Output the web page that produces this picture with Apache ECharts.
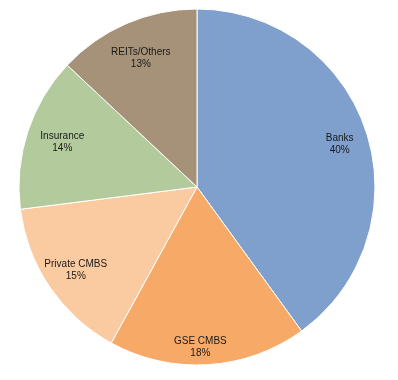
<!DOCTYPE html>
<html>
<head>
<meta charset="utf-8">
<script src="https://cdn.jsdelivr.net/npm/echarts@6/dist/echarts.min.js"></script>
<style>html,body{margin:0;padding:0;background:#fff;}#c{width:398px;height:380px;}</style>
</head>
<body>
<div id="c"></div>
<script>
var categories = ['Banks', 'GSE CMBS', 'Private CMBS', 'Insurance', 'REITs/Others'];
var values = [40, 18, 15, 14, 13];

// styling (kept separate from data)
var colors = ['#7F9FCD', '#F7AA68', '#FACAA0', '#B3CA9D', '#A69179'];
var labelNudges = [[1, 3], [-6, 12], [2, -1], [7, 1], [3, 8]];

var data = categories.map(function (c, i) {
  return { name: c, value: values[i], itemStyle: { color: colors[i] } };
});
var labelData = categories.map(function (c, i) {
  return { name: c, value: values[i], label: { offset: labelNudges[i] } };
});

var chart = echarts.init(document.getElementById('c'), null, { renderer: 'canvas' });
chart.setOption({
  animation: false,
  series: [
    {
      type: 'pie',
      center: [197, 187],
      radius: [0, 178],
      startAngle: 90,
      clockwise: true,
      data: data,
      label: { show: false },
      labelLine: { show: false },
      itemStyle: { borderColor: '#ffffff', borderWidth: 1 },
      emphasis: { disabled: true },
      silent: true
    },
    {
      type: 'pie',
      center: [197, 187],
      radius: [0, 292],
      startAngle: 90,
      clockwise: true,
      data: labelData,
      itemStyle: { color: 'rgba(0,0,0,0)', borderWidth: 0 },
      label: {
        show: true,
        position: 'inside',
        formatter: '{b}\n{c}%',
        color: '#1a1a1a',
        fontFamily: 'Liberation Sans, Arial, sans-serif',
        fontSize: 10,
        lineHeight: 12
      },
      labelLine: { show: false },
      emphasis: { disabled: true },
      silent: true
    }
  ]
});
</script>
</body>
</html>
